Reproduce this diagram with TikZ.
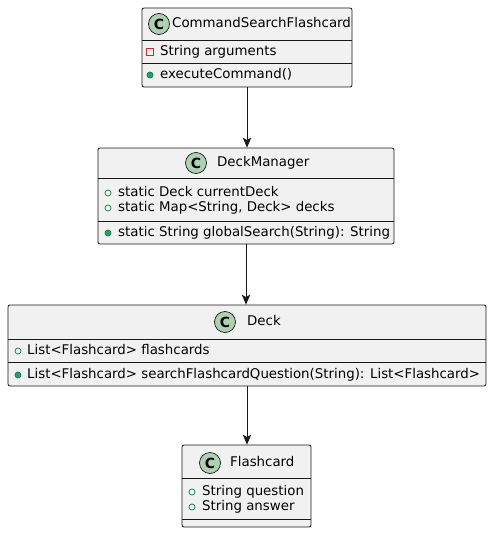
\documentclass[tikz,border=0pt]{standalone}
\usepackage{fontspec}
\setmainfont{DejaVu Sans}
\usetikzlibrary{arrows.meta,positioning}
\definecolor{boxfill}{HTML}{F1F1F1}
\definecolor{boxline}{HTML}{181818}
\definecolor{spotfill}{HTML}{ADD1B2}
\definecolor{pubgreen}{HTML}{038048}
\definecolor{privred}{HTML}{C82930}
\tikzset{
    classbox/.style={
        rectangle,
        draw=boxline,
        fill=boxfill,
        rounded corners=2pt,
        line width=0.8pt,
        inner sep=0pt
    },
    spot/.style={
        circle, draw=boxline, fill=spotfill, line width=0.7pt,
        minimum size=21pt, inner sep=0pt,
        font=\bfseries\fontsize{14}{14}\selectfont
    },
    member/.style={
        anchor=west, inner sep=0pt,
        text height=9.5pt, text depth=2.8pt,
        font=\fontsize{13.35}{15}\selectfont
    },
    pubfield/.style={circle, draw=pubgreen, line width=0.7pt, minimum size=6pt, inner sep=0pt},
    pubmethod/.style={pubfield, fill=pubgreen!80},
    privfield/.style={rectangle, draw=privred, line width=0.7pt, minimum size=6.5pt, inner sep=0pt},
    link/.style={-{Stealth[length=10pt,width=8.5pt,inset=2.5pt]}, draw=boxline, line width=0.8pt}
}

\begin{document}
\begin{tikzpicture}[x=1pt,y=-1pt]
    \useasboundingbox (0,0) rectangle (492,533);

    % CommandSearchFlashcard
    \node[classbox, minimum width=210pt, minimum height=79pt] (csf) at (247,47.5) {};
    \node[spot] (csfC) at (159,24) {C};
    \node[member] (csfT) at (172,24) {CommandSearchFlashcard};
    \draw[boxline, line width=0.8pt] (142,40) -- (352,40);
    \node[privfield] (csfI1) at (150,52) {};
    \node[member] (csfF1) at (160,52) {String arguments};
    \draw[boxline, line width=0.8pt] (142,63) -- (352,63);
    \node[pubmethod] (csfI2) at (150,75) {};
    \node[member] (csfM1) at (160,75) {executeCommand()};

    % DeckManager
    \node[classbox, minimum width=296pt, minimum height=96pt] (mgr) at (246,196) {};
    \node[spot] (mgrC) at (196,163) {C};
    \node[member] (mgrT) at (217,163) {DeckManager};
    \draw[boxline, line width=0.8pt] (98,178) -- (394,178);
    \node[pubfield] (mgrI1) at (108,193) {};
    \node[member] (mgrF1) at (118,193) {static Deck currentDeck};
    \node[pubfield] (mgrI2) at (108,208) {};
    \node[member] (mgrF2) at (118,208) {static Map<String, Deck> decks};
    \draw[boxline, line width=0.8pt] (98,221) -- (394,221);
    \node[pubmethod] (mgrI3) at (108,233) {};
    \node[member] (mgrM1) at (118,233) {static String globalSearch(String): String};

    % Deck
    \node[classbox, minimum width=478pt, minimum height=81pt] (deck) at (247,345.5) {};
    \node[spot] (deckC) at (225,322) {C};
    \node[member] (deckT) at (247,322) {Deck};
    \draw[boxline, line width=0.8pt] (8,339) -- (486,339);
    \node[pubfield] (deckI1) at (18,351) {};
    \node[member] (deckF1) at (27,351) {List<Flashcard> flashcards};
    \draw[boxline, line width=0.8pt] (8,362) -- (486,362);
    \node[pubmethod] (deckI2) at (18,375) {};
    \node[member] (deckM1) at (27,375) {List<Flashcard> searchFlashcardQuestion(String): List<Flashcard>};

    % Flashcard
    \node[classbox, minimum width=129pt, minimum height=82pt] (card) at (246.5,486) {};
    \node[spot] (cardC) at (210,463) {C};
    \node[member] (cardT) at (230,463) {Flashcard};
    \draw[boxline, line width=0.8pt] (182,478) -- (311,478);
    \node[pubfield] (cardI1) at (192,492) {};
    \node[member] (cardF1) at (202,492) {String question};
    \node[pubfield] (cardI2) at (192,507) {};
    \node[member] (cardF2) at (202,507) {String answer};
    \draw[boxline, line width=0.8pt] (182,519) -- (311,519);

    % associations
    \draw[link] (csf.south) -- (csf.south |- mgr.north);
    \draw[link] (mgr.south) -- (mgr.south |- deck.north);
    \draw[link] (deck.south) -- (deck.south |- card.north);
\end{tikzpicture}
\end{document}
